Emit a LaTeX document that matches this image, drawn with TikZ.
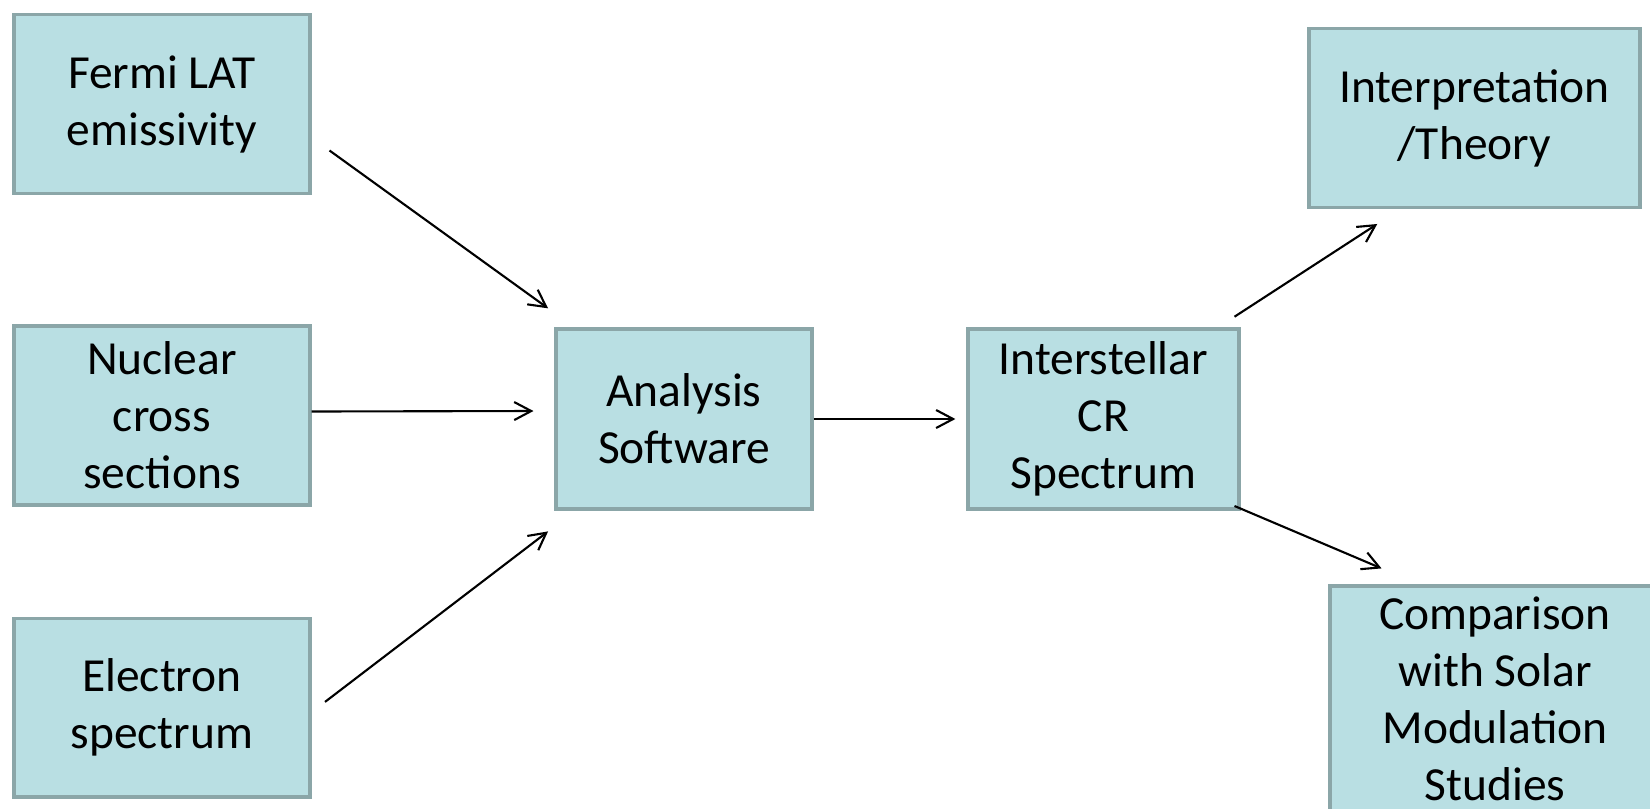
\documentclass[tikz,border=0pt]{standalone}
\usepackage{fontspec}
\setmainfont{Carlito}
\usetikzlibrary{arrows.meta,calc}
\definecolor{boxfill}{RGB}{185,223,227}
\definecolor{boxline}{RGB}{139,166,168}

\begin{document}
\begin{tikzpicture}[x=0.01cm,y=-0.01cm,
  box/.style={draw=boxline,fill=boxfill,line width=1.1pt,align=center,inner sep=0pt,
    font=\fontsize{13.5pt}{16.2pt}\selectfont},
  arr/.style={-{Straight Barb[length=1.7mm,width=1.8mm]},line width=0.6pt}]
\useasboundingbox (0,0) rectangle (1650,808);

% inputs
\node[box,minimum width=2.95cm,minimum height=1.79cm] (fermi) at (162,104) {Fermi LAT\\emissivity};
\node[box,minimum width=2.95cm,minimum height=1.79cm] (nuclear) at (162,415.5) {Nuclear\\cross\\sections};
\node[box,minimum width=2.95cm,minimum height=1.78cm] (electron) at (162,707.6) {Electron\\spectrum};

% middle
\node[box,minimum width=2.55cm,minimum height=1.80cm] (analysis) at (684,419) {Analysis\\Software};
\node[box,minimum width=2.71cm,minimum height=1.80cm] (inter) at (1103.4,419) {Interstellar\\CR\\Spectrum};

% outputs
\node[box,minimum width=3.31cm,minimum height=1.79cm] (interp) at (1474.3,118) {Interpretation\\/Theory};
\node[box,minimum width=3.30cm,minimum height=2.26cm] (comp) at (1495,699) {Comparison\\with Solar\\Modulation\\Studies};

\draw[arr] ($(fermi.east)+(18,46.5)$) -- ($(analysis.north west)+(-6.4,-18.7)$);
\draw[arr] ($(nuclear.east)+(0,-4)$) -- ($(analysis.west)+(-21,-8)$);
\draw[arr] ($(electron.east)+(13.5,-5.7)$) -- ($(analysis.south west)+(-6.4,20.4)$);
\draw[arr,shorten >=0.105cm] (analysis.east) -- (inter.west);
\draw[arr] ($(inter.north east)+(-6.4,-10.3)$) -- ($(interp.south west)+(70.5,14.5)$);
\draw[arr] ($(inter.south east)+(-6.4,-5)$) -- ($(comp.north west)+(53.6,-15.6)$);
\end{tikzpicture}
\end{document}
